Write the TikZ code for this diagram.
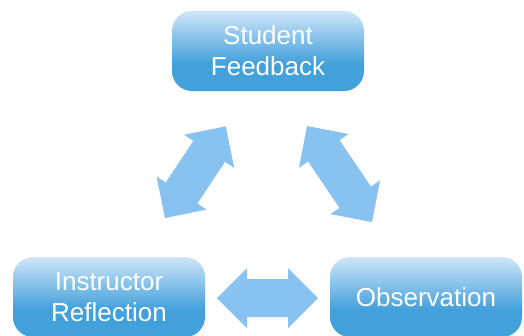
\documentclass[tikz,border=0pt]{standalone}
\usepackage{fontspec}
\setmainfont{Liberation Sans}
\definecolor{arrowblue}{HTML}{88C2F0}
\definecolor{boxlight}{HTML}{CFE6F8}
\definecolor{boxdark}{HTML}{42A0DB}
\pgfdeclareverticalshading{boxshade}{100bp}{color(0bp)=(boxdark); color(25bp)=(boxdark); color(42bp)=(boxdark); color(75bp)=(boxlight); color(100bp)=(boxlight)}
\tikzset{
  box/.style={rounded corners=20pt, minimum width=192pt, minimum height=80pt,
    shading=boxshade, text=white, align=center, inner sep=0pt,
    font=\fontsize{26pt}{31pt}\selectfont},
  dblarrow/.pic={\fill[arrowblue] (0,0) -- (30,30) -- (30,19) -- (#1-30,19) -- (#1-30,30) -- (#1,0)
     -- (#1-30,-30) -- (#1-30,-19) -- (30,-19) -- (30,-30) -- cycle;}
}
\begin{document}
\begin{tikzpicture}[x=1pt,y=-1pt]
\useasboundingbox (0,0) rectangle (524,335);
\node[box] (sf) at (268,51) {Student\\Feedback};
\node[box] (ir) at (109,297) {Instructor\\Reflection};
\node[box] (ob) at (426,297) {Observation};
\pic[rotate=56.45] (a1) at (165,218) {dblarrow=110};
\pic[rotate=-55.9] (a2) at (307,126) {dblarrow=116};
\pic (a3) at (217,298) {dblarrow=101};
\end{tikzpicture}
\end{document}
